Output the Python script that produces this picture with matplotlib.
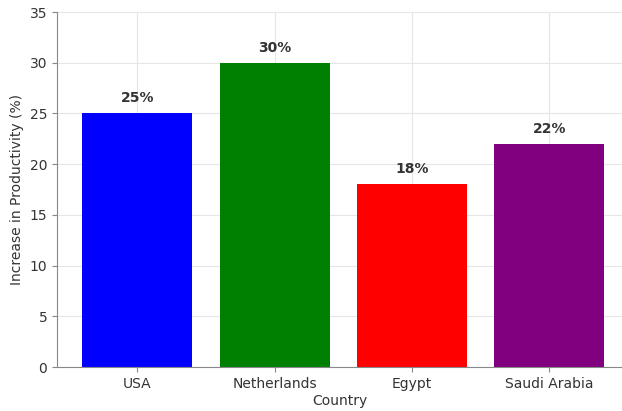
import matplotlib
matplotlib.use("Agg")
import matplotlib.pyplot as plt

countries = ["USA", "Netherlands", "Egypt", "Saudi Arabia"]
increase = [25, 30, 18, 22]
colors = ["blue", "green", "red", "purple"]

fig = plt.figure(figsize=(6.22, 4.11), dpi=100)
ax = fig.add_axes([57 / 622, 44 / 411, 565 / 622, 355 / 411])

x = list(range(len(countries)))
ax.bar(x, increase, width=0.8, color=colors, zorder=2)
for xi, v in zip(x, increase):
    ax.text(xi, v + 0.8, f"{v}%", ha="center", va="bottom",
            fontsize=10, fontweight="bold", color="#333333", zorder=3)

ax.set_xticks(x)
ax.set_xticklabels(countries)
ax.set_xlim(-0.585, 3.53)
ax.set_ylim(0, 35)
ax.set_yticks(range(0, 36, 5))
ax.grid(True, color="#e6e6e6", linewidth=0.8, zorder=0)
ax.set_axisbelow(True)
for side in ["top", "right"]:
    ax.spines[side].set_visible(False)
for side in ["left", "bottom"]:
    ax.spines[side].set_color("#888888")
ax.tick_params(colors="#888888", labelcolor="#333333", labelsize=10)
ax.set_xlabel("Country", fontsize=10, color="#333333", labelpad=2)
ax.set_ylabel("Increase in Productivity (%)", fontsize=10, color="#333333")

fig.savefig("out.png", dpi=100)
